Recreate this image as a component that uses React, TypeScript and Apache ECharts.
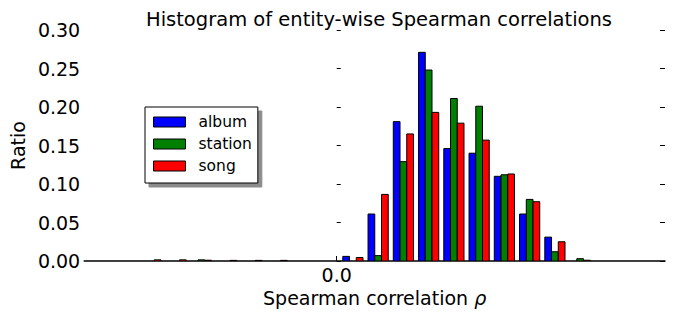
import React, { useEffect, useRef } from "react";
import * as echarts from "echarts";

// Left edges of the 20 histogram bins (correlation units)
const binEdges = [
  -0.986, -0.886, -0.786, -0.686, -0.586, -0.486, -0.386, -0.286, -0.186, -0.086,
  0.014, 0.114, 0.214, 0.314, 0.414, 0.514, 0.614, 0.714, 0.814, 0.914,
];
const binWidth = 0.1;

const seriesNames = ["album", "station", "song"];
const seriesColors = ["#0000ff", "#008000", "#ff0000"];

const albumRatio = [
  0, 0, 0, 0, 0, 0, 0, 0, 0, 0,
  0.006, 0.061, 0.181, 0.271, 0.146, 0.14, 0.11, 0.061, 0.031, 0,
];
const stationRatio = [
  0, 0, 0, 0, 0.0015, 0, 0, 0, 0, 0,
  0, 0.007, 0.129, 0.248, 0.211, 0.201, 0.112, 0.08, 0.012, 0.003,
];
const songRatio = [
  0, 0, 0.0015, 0.0015, 0.001, 0.0008, 0.0008, 0.0008, 0, 0,
  0.0045, 0.0865, 0.165, 0.193, 0.179, 0.157, 0.113, 0.077, 0.025, 0.001,
];

const yTicks = { min: 0, max: 0.3, interval: 0.05 };
const xRange = { min: -1.0, max: 1.3 };
const xTickValues = [0];

const FONT = "DejaVu Sans";

export default function App() {
  const ref = useRef<HTMLDivElement>(null);
  useEffect(() => {
    document.body.style.margin = "0";
    if (!ref.current) return;
    const chart = echarts.init(ref.current, null, { renderer: "svg" });
    const allValues = [albumRatio, stationRatio, songRatio];
    const series = allValues.map((vals, k) => ({
      type: "custom",
      name: seriesNames[k],
      coordinateSystem: "cartesian2d",
      xAxisIndex: 0,
      yAxisIndex: 0,
      clip: true,
      itemStyle: { color: seriesColors[k], borderColor: "#000", borderWidth: 1 },
      encode: { x: 0, y: 1 },
      data: vals.map((v, i) => [binEdges[i], v]),
      renderItem: (params: any, api: any) => {
        const e = api.value(0);
        const y = api.value(1);
        if (!y) return null;
        const x0 = e + binWidth * (0.1 + (k * 0.8) / 3);
        const x1 = x0 + (binWidth * 0.8) / 3;
        const p0 = api.coord([x0, y]);
        const p1 = api.coord([x1, 0]);
        return {
          type: "rect",
          shape: { x: p0[0], y: p0[1], width: p1[0] - p0[0], height: p1[1] - p0[1] },
          style: { fill: seriesColors[k], stroke: "#000", lineWidth: 1 },
        };
      },
    }));
    chart.setOption({
      animation: false,
      textStyle: { fontFamily: FONT },
      title: {
        text: "Histogram of entity-wise Spearman correlations",
        left: 374,
        top: 4,
        textAlign: "center",
        textStyle: { fontSize: 19.5, fontWeight: "normal", fontFamily: FONT, color: "#000" },
      },
      grid: { left: 81, right: 10, top: 30, bottom: 61, containLabel: false },
      legend: {
        orient: "vertical",
        left: 145,
        top: 107,
        itemWidth: 32,
        itemHeight: 10,
        itemGap: 4,
        padding: [6, 6, 8, 8],
        backgroundColor: "#fff",
        borderColor: "#000",
        borderWidth: 1,
        borderRadius: 0,
        shadowColor: "rgba(0,0,0,0.45)",
        shadowBlur: 0,
        shadowOffsetX: 4,
        shadowOffsetY: 4,
        icon: "rect",
        textStyle: {
          fontSize: 15.5,
          lineHeight: 18,
          fontFamily: FONT,
          color: "#000",
          padding: [0, 0, 0, 8],
        },
        data: seriesNames.map((n, k) => ({
          name: n,
          itemStyle: { color: seriesColors[k], borderColor: "#000", borderWidth: 1 },
        })),
      },
      xAxis: {
        type: "value",
        min: xRange.min,
        max: xRange.max,
        name: "Spearman correlation {i|ρ}",
        nameLocation: "middle",
        nameGap: 26,
        nameTextStyle: {
          fontSize: 19,
          fontFamily: FONT,
          color: "#000",
          rich: { i: { fontSize: 19, fontStyle: "italic", fontFamily: FONT, color: "#000" } },
        },
        splitLine: { show: false },
        axisLine: { show: true, onZero: false, lineStyle: { color: "#000", width: 1.5 } },
        axisTick: { show: true, inside: true, length: 5, customValues: xTickValues, lineStyle: { color: "#000" } },
        axisLabel: {
          show: true,
          customValues: xTickValues,
          margin: 4,
          fontSize: 19,
          fontFamily: FONT,
          color: "#000",
          formatter: (v: number) => v.toFixed(1),
        },
      },
      yAxis: [
        {
          type: "value",
          min: yTicks.min,
          max: yTicks.max,
          interval: yTicks.interval,
          name: "Ratio",
          nameLocation: "middle",
          nameGap: 52,
          nameTextStyle: { fontSize: 19, fontFamily: FONT, color: "#000" },
          splitLine: { show: false },
          axisLine: { show: false },
          axisTick: { show: true, inside: true, length: 4, lineStyle: { color: "#000" } },
          axisLabel: {
            margin: 4,
            fontSize: 19,
            fontFamily: FONT,
            color: "#000",
            formatter: (v: number) => v.toFixed(2),
          },
        },
        {
          type: "value",
          position: "right",
          min: yTicks.min,
          max: yTicks.max,
          interval: yTicks.interval,
          splitLine: { show: false },
          axisLine: { show: false },
          axisTick: { show: true, inside: true, length: 5, lineStyle: { color: "#000" } },
          axisLabel: { show: false },
        },
      ],
      series,
    });
    return () => chart.dispose();
  }, []);
  return <div ref={ref} style={{ width: 675, height: 322 }} />;
}
